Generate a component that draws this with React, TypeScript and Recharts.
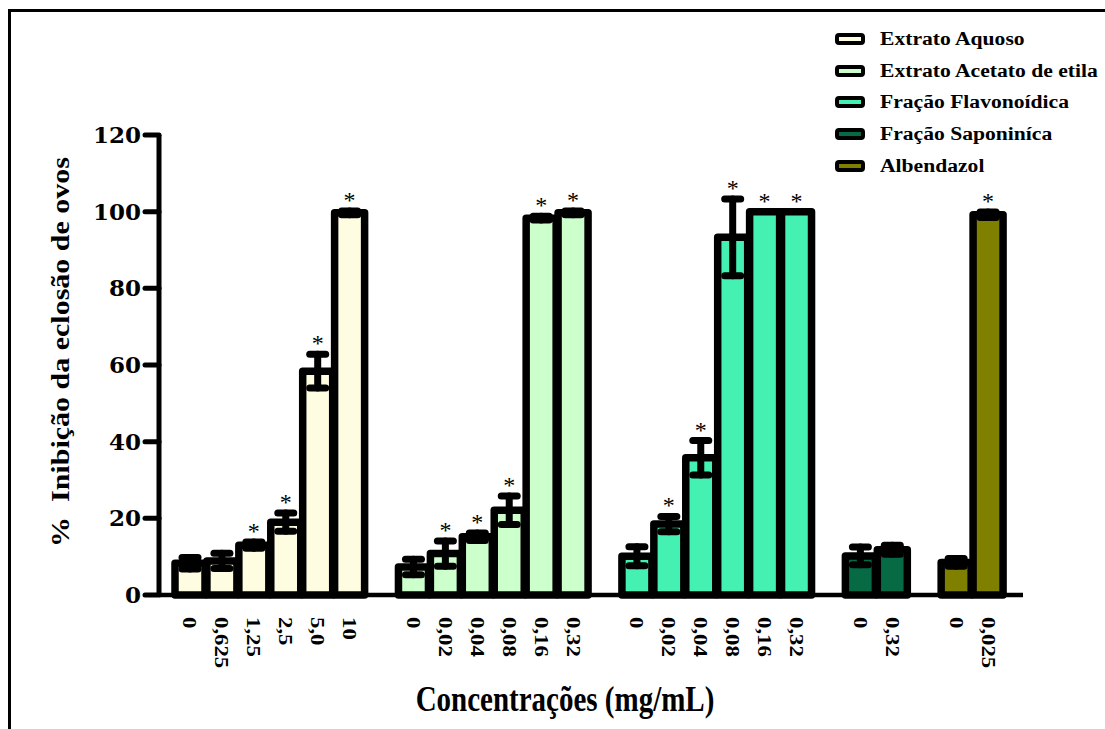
import { BarChart, Bar, XAxis, YAxis, Cell, ErrorBar, LabelList, Label } from 'recharts'

// values (mean % inhibition, error, significance flag)
const aquosoDoses = ['0', '0,625', '1,25', '2,5', '5,0', '10']
const aquosoMean = [8.3, 8.9, 13.0, 19.0, 58.4, 99.7]
const aquosoErr = [1.5, 2.0, 0.8, 2.4, 4.4, 0.5]
const aquosoSig = [0, 0, 1, 1, 1, 1]

const acetatoDoses = ['0', '0,02', '0,04', '0,08', '0,16', '0,32']
const acetatoMean = [7.3, 10.8, 15.2, 22.1, 98.3, 99.7]
const acetatoErr = [2.0, 3.3, 1.0, 3.7, 0.5, 0.5]
const acetatoSig = [0, 1, 1, 1, 1, 1]

const flavonoidicaDoses = ['0', '0,02', '0,04', '0,08', '0,16', '0,32']
const flavonoidicaMean = [10.1, 18.5, 35.8, 93.3, 100, 100]
const flavonoidicaErr = [2.5, 2.0, 4.5, 10.0, 0, 0]
const flavonoidicaSig = [0, 1, 1, 1, 1, 1]

const saponinicaDoses = ['0', '0,32']
const saponinicaMean = [10.2, 11.8]
const saponinicaErr = [2.3, 1.2]
const saponinicaSig = [0, 0]

const albendazolDoses = ['0', '0,025']
const albendazolMean = [8.5, 99.2]
const albendazolErr = [1.0, 0.7]
const albendazolSig = [0, 1]

const yTicks = [0, 20, 40, 60, 80, 100, 120]

const serif = "'Liberation Serif', 'Times New Roman', serif"

const groups = [
  { name: 'Extrato Aquoso', color: '#FFFDE1', doses: aquosoDoses, mean: aquosoMean, err: aquosoErr, sig: aquosoSig },
  { name: 'Extrato Acetato de etila', color: '#CCFFCC', doses: acetatoDoses, mean: acetatoMean, err: acetatoErr, sig: acetatoSig },
  { name: 'Fração Flavonoídica', color: '#44F0B2', doses: flavonoidicaDoses, mean: flavonoidicaMean, err: flavonoidicaErr, sig: flavonoidicaSig },
  { name: 'Fração Saponiníca', color: '#066B44', doses: saponinicaDoses, mean: saponinicaMean, err: saponinicaErr, sig: saponinicaSig },
  { name: 'Albendazol', color: '#808000', doses: albendazolDoses, mean: albendazolMean, err: albendazolErr, sig: albendazolSig },
]

interface Row {
  id: string
  dose: string
  mean: number | null
  err: number | null
  sig: number
  color: string
}

// one empty category between groups
const chartData: Row[] = []
groups.forEach((g, gi) => {
  if (gi > 0) chartData.push({ id: `gap${gi}`, dose: '', mean: null, err: null, sig: 0, color: 'none' })
  g.doses.forEach((d, i) =>
    chartData.push({ id: `${gi}-${i}`, dose: d, mean: g.mean[i], err: g.err[i], sig: g.sig[i], color: g.color }),
  )
})
const rowById: Record<string, Row> = {}
chartData.forEach((d) => (rowById[d.id] = d))

// eslint-disable-next-line @typescript-eslint/no-explicit-any
function DoseTick({ x, y, payload }: any) {
  const label = rowById[payload?.value]?.dose
  if (!label) return null
  return (
    <g transform={`translate(${x},${y}) rotate(90) scale(1.2,1)`}>
      <text x={0} y={0} dy="0.34em" textAnchor="start" fontFamily={serif} fontWeight="bold" fontSize={19} fill="#000">
        {label}
      </text>
    </g>
  )
}

// asterisk above the upper error cap
// eslint-disable-next-line @typescript-eslint/no-explicit-any
function Star(props: any) {
  const { x, y, width, height, value } = props
  const d = rowById[value]
  if (!d || !d.sig || !d.mean) return null
  const ppu = Number(height) / d.mean
  const top = Number(y) - (d.err ?? 0) * ppu
  return (
    <text x={Number(x) + Number(width) / 2} y={top - 3} textAnchor="middle" fontFamily={serif} fontSize={24} fill="#000">
      *
    </text>
  )
}

function Legend() {
  return (
    <div style={{ position: 'absolute', left: 835, top: 23 }}>
      {groups.map((g) => (
        <div key={g.name} style={{ display: 'flex', alignItems: 'center', height: 31.7 }}>
          <div style={{ width: 22, height: 4, border: '4px solid #000', borderRadius: 4, background: g.color }} />
          <span
            style={{
              marginLeft: 15,
              fontFamily: serif,
              fontWeight: 'bold',
              fontSize: 18,
              lineHeight: 1,
              whiteSpace: 'nowrap',
              transform: 'scaleX(1.2)',
              transformOrigin: 'left center',
              display: 'inline-block',
            }}
          >
            {g.name}
          </span>
        </div>
      ))}
    </div>
  )
}

export default function App() {
  return (
    <div style={{ position: 'absolute', left: 0, top: 0, width: 1105, height: 729, overflow: 'hidden', background: '#fff' }}>
      <div style={{ position: 'absolute', left: 8, top: 9, width: 1200, height: 900, border: '3px solid #000' }} />
      <BarChart
        width={1105}
        height={729}
        data={chartData}
        margin={{ top: 135, right: 82, bottom: 0, left: 0 }}
        style={{ position: 'absolute', left: 0, top: 0 }}
      >
        <XAxis
          dataKey="id"
          height={134}
          interval={0}
          padding={{ left: 15, right: 19 }}
          tickLine={false}
          tickMargin={16}
          axisLine={{ stroke: '#000', strokeWidth: 4.5 }}
          tick={<DoseTick />}
        >
          <Label
            content={() => (
              <text
                transform="translate(565,711) scale(1,1.2)"
                textAnchor="middle"
                fontFamily={serif}
                fontWeight="bold"
                fontSize={29}
                fill="#000"
              >
                Concentrações (mg/mL)
              </text>
            )}
          />
        </XAxis>
        <YAxis
          width={159}
          domain={[0, 120]}
          ticks={yTicks}
          tickSize={14}
          tickMargin={4}
          axisLine={{ stroke: '#000', strokeWidth: 5 }}
          tickLine={{ stroke: '#000', strokeWidth: 5, strokeLinecap: 'round' }}
          tick={{ fontFamily: "'DejaVu Serif', serif", fontWeight: 'bold', fontSize: 23, fill: '#000' }}
        >
          <Label
            content={() => (
              <text
                transform="translate(60,352) rotate(-90) scale(1.2,1)"
                textAnchor="middle"
                dy="0.35em"
                fontFamily={serif}
                fontWeight="bold"
                fontSize={25}
                fill="#000"
              >
                {'%\u00a0 Inibição da eclosão de ovos'}
              </text>
            )}
          />
        </YAxis>
        <Bar dataKey="mean" barSize={30} stroke="#000" strokeWidth={7.5} strokeLinejoin="round" isAnimationActive={false}>
          {chartData.map((d) => (
            <Cell key={d.id} fill={d.color} />
          ))}
          <ErrorBar dataKey="err" width={8} stroke="#000" strokeWidth={7} strokeLinecap="round" />
          <LabelList dataKey="id" content={Star} />
        </Bar>
      </BarChart>
      <Legend />
    </div>
  )
}
